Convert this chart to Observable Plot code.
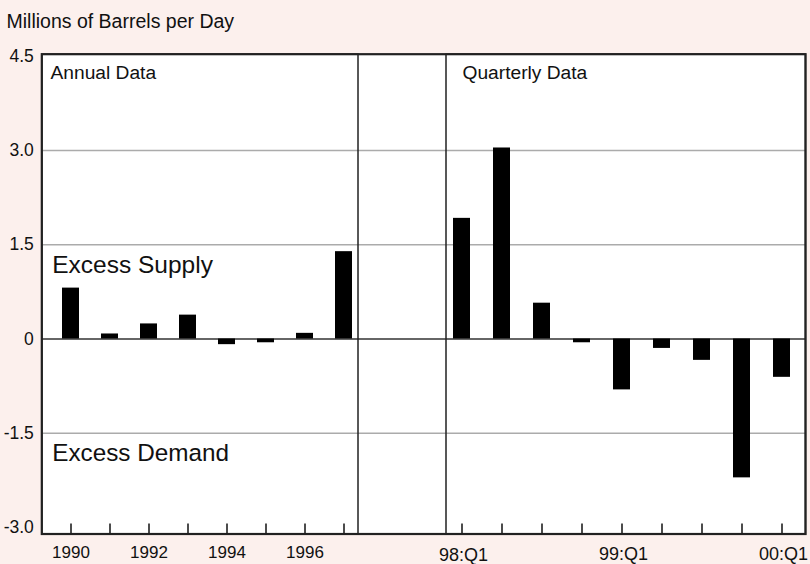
<!DOCTYPE html>
<html>
<head>
<meta charset="utf-8">
<script src="https://cdn.jsdelivr.net/npm/d3@7"></script>
<script src="https://cdn.jsdelivr.net/npm/@observablehq/plot@0.6"></script>
<style>
  html, body { margin: 0; padding: 0; background: #fcf0ed; }
  #chart { position: relative; width: 810px; height: 564px; overflow: hidden; }
  #chart svg { position: absolute; left: 0; top: 0; }
</style>
</head>
<body>
<div id="chart"></div>
<script>
// ---- data ----
const years = ["1990", "1991", "1992", "1993", "1994", "1995", "1996", "1997"];
const annualValues = [0.81, 0.08, 0.24, 0.38, -0.09, -0.06, 0.09, 1.39];
const quarters = ["98:Q1", "98:Q2", "98:Q3", "98:Q4", "99:Q1", "99:Q2", "99:Q3", "99:Q4", "00:Q1"];
const quarterlyValues = [1.92, 3.04, 0.57, -0.06, -0.81, -0.15, -0.34, -2.21, -0.61];
const yTicks = [-3, -1.5, 0, 1.5, 3, 4.5];
const gridValues = [-1.5, 1.5, 3];
const annualTickLabels = ["1990", "1992", "1994", "1996"];
const quarterTickLabels = ["99:Q1", "00:Q1"];
const firstQuarterLabel = ["98:Q1"];
const titleText = "Millions of Barrels per Day";
const panelLabels = ["Annual Data", "Quarterly Data"];

const annual = years.map((year, i) => ({ period: year, value: annualValues[i] }));
const quarterly = quarters.map((q, i) => ({ period: q, value: quarterlyValues[i] }));

// ---- layout ----
const W = 810, H = 564;
const mTop = 53.7, mBottom = 30.5, mLeft = 41.3, mRight = 5;
const frameH = H - mTop - mBottom;
const font = '"Liberation Sans", Arial, Helvetica, sans-serif';
const ink = "#111";
const yScale = { domain: [-3, 4.5], range: [527, 55.75] };
const baseStyle = { background: "transparent", fontFamily: font, color: ink, overflow: "visible" };

const base = Plot.plot({
  width: W, height: H,
  marginLeft: mLeft, marginRight: mRight, marginTop: mTop, marginBottom: mBottom,
  style: baseStyle,
  y: yScale,
  marks: [
    Plot.frame({ fill: "white", stroke: null }),
    Plot.ruleY(gridValues, { stroke: "#ababab", strokeWidth: 1.5 }),
    Plot.ruleY([0], { stroke: "#333", strokeWidth: 1.6 }),
    Plot.axisY(yTicks, {
      tickSize: 0, tickPadding: 8, fontSize: 17.5, label: null,
      tickFormat: d => d === 0 ? "0" : d.toFixed(1)
    }),
    Plot.text([titleText], {
      text: d => d, frameAnchor: "top-left", textAnchor: "start", lineAnchor: "bottom",
      dx: 6 - mLeft, dy: 27.3 - mTop, fontSize: 19.5, fill: ink
    }),
    Plot.text([panelLabels[0]], {
      text: d => d, frameAnchor: "top-left", textAnchor: "start", lineAnchor: "bottom",
      dx: 50 - mLeft, dy: 78 - mTop, fontSize: 19.2, fill: ink
    }),
    Plot.text([panelLabels[1]], {
      text: d => d, frameAnchor: "top-left", textAnchor: "start", lineAnchor: "bottom",
      dx: 462 - mLeft, dy: 78 - mTop, fontSize: 19.2, fill: ink
    }),
    Plot.text(["Excess Supply"], {
      text: d => d, frameAnchor: "top-left", textAnchor: "start", lineAnchor: "bottom",
      dx: 51.7 - mLeft, dy: 272.7 - mTop, fontSize: 24.5, fill: ink
    }),
    Plot.text(["Excess Demand"], {
      text: d => d, frameAnchor: "top-left", textAnchor: "start", lineAnchor: "bottom",
      dx: 51.7 - mLeft, dy: 460 - mTop, fontSize: 24.3, fill: ink
    }),
    Plot.frame({ stroke: "#222", strokeWidth: 2.2 })
  ]
});

const chartA = Plot.plot({
  width: W, height: H,
  marginLeft: mLeft, marginRight: W - 357.5, marginTop: mTop, marginBottom: mBottom,
  style: baseStyle,
  x: { type: "band", domain: years, range: [49.7, 363.7], paddingInner: 0.567, paddingOuter: 0.2835 },
  y: { ...yScale, axis: null },
  marks: [
    Plot.barY(annual, { x: "period", y: "value", fill: "#000" }),
    Plot.tickX(years, { x: d => d, insetTop: frameH - 10, stroke: ink, strokeWidth: 1.5 }),
    Plot.axisX(annualTickLabels, { tickSize: 0, tickPadding: 11.5, fontSize: 17, label: null }),
    Plot.frame({ stroke: "#222", strokeWidth: 1.5 })
  ]
});

const chartQ = Plot.plot({
  width: W, height: H,
  marginLeft: 445.5, marginRight: mRight, marginTop: mTop, marginBottom: mBottom,
  style: baseStyle,
  x: { type: "band", domain: quarters, range: [440.1, 803.7], paddingInner: 0.567, paddingOuter: 0.2835 },
  y: { ...yScale, axis: null },
  marks: [
    Plot.barY(quarterly, { x: "period", y: "value", fill: "#000" }),
    Plot.tickX(quarters, { x: d => d, insetTop: frameH - 10, stroke: ink, strokeWidth: 1.5 }),
    Plot.axisX(quarterTickLabels, { tickSize: 0, tickPadding: 13, dx: 1.5, fontSize: 18, label: null }),
    Plot.axisX(firstQuarterLabel, { tickSize: 0, tickPadding: 14.5, dx: 1.5, fontSize: 18, label: null }),
    Plot.frame({ stroke: "#222", strokeWidth: 1.5 })
  ]
});

const container = document.getElementById("chart");
container.appendChild(base);
container.appendChild(chartA);
container.appendChild(chartQ);
</script>
</body>
</html>
